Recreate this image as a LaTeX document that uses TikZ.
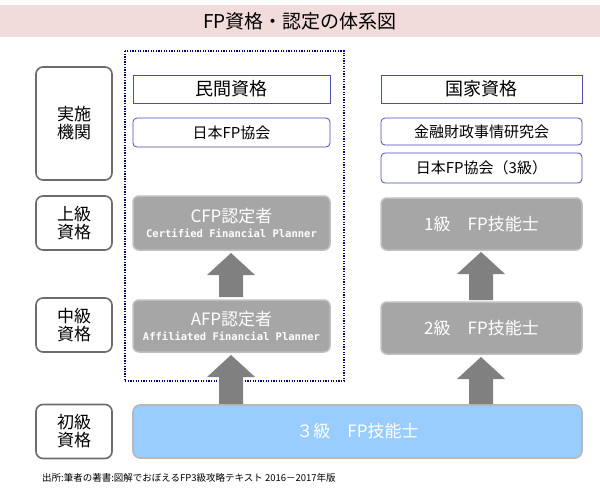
\documentclass[tikz,border=0pt]{standalone}
\usepackage{fontspec}
\setmainfont{Noto Sans CJK JP}
\newfontfamily\monof{DejaVu Sans Mono}
\newcommand\subtx{\fontsize{10.5}{12}\monof\bfseries}
\begin{document}
\begin{tikzpicture}[x=1pt,y=-1pt,
 lab/.style={draw=gray!85!black,line width=1.6pt,rounded corners=7pt,fill=white,align=center,font=\fontsize{17}{18}\selectfont,inner sep=0},
 head/.style={draw=blue!40!gray,line width=0.8pt,fill=white,font=\fontsize{18}{20}\selectfont,inner sep=0},
 org/.style={draw=blue!40!gray,line width=0.8pt,rounded corners=4pt,fill=white,font=\fontsize{15}{17}\selectfont,inner sep=0},
 gbox/.style={draw=black!25,line width=1.5pt,rounded corners=6pt,fill=black!35,text=white,align=center,font=\fontsize{17}{19}\selectfont,inner sep=0},
 arr/.style={fill=black!50,draw=none}]
\useasboundingbox (0,0) rectangle (600,498);
\fill[fill={rgb,255:red,242;green,220;blue,219}] (0,5) rectangle (600,37);
\node[font=\fontsize{19}{21}\selectfont] (title) at (300,21) {FP資格・認定の体系図};
\draw[blue!40!black,line width=1.3pt,dash pattern=on 1.3pt off 1.3pt] (125,51) rectangle (344,381);
% left labels
\node[lab,minimum width=76,minimum height=113] (l0) at (74,123.5) {実施\\機関};
\node[lab,minimum width=76,minimum height=54] (l1) at (74,223) {上級\\資格};
\node[lab,minimum width=76,minimum height=54] (l2) at (74,325) {中級\\資格};
\node[lab,minimum width=76,minimum height=54] (l3) at (74,431.5) {初級\\資格};
% column 1
\node[head,minimum width=197,minimum height=28] (h1) at (231.5,89) {民間資格};
\node[org,minimum width=197,minimum height=29] (o1) at (231.5,132.5) {日本FP協会};
\node[gbox,minimum width=197,minimum height=54] (cfp) at (231.5,223) {CFP認定者\\[-4pt]{\subtx Certified Financial Planner}};
\node[gbox,minimum width=197,minimum height=52] (afp) at (231.5,326) {AFP認定者\\[-4pt]{\subtx Affiliated Financial Planner}};
% column 2
\node[head,minimum width=201,minimum height=28] (h2) at (481.5,89) {国家資格};
\node[org,minimum width=201,minimum height=27] (o2) at (481.5,131.5) {金融財政事情研究会};
\node[org,minimum width=201,minimum height=30] (o3) at (481.5,168) {日本FP協会（3級）};
\node[gbox,minimum width=201,minimum height=52] (g1) at (481.5,224) {1級\quad FP技能士};
\node[gbox,minimum width=201,minimum height=52] (g2) at (481.5,328) {2級\quad FP技能士};
% bottom
\node[draw=black!28,line width=1.6pt,rounded corners=7pt,fill={rgb,255:red,153;green,204;blue,255},text=white,minimum width=449,minimum height=53,font=\fontsize{17}{19}\selectfont] (g3) at (357.5,431.5) {３級\quad FP技能士};
% arrows
\foreach \cx/\a/\b in {231/253/297, 231/355/404, 481/252/300, 481/357/404}{
 \fill[arr] (\cx-12,\b) -- (\cx-12,\a+22) -- (\cx-24,\a+22) -- (\cx,\a) -- (\cx+24,\a+22) -- (\cx+12,\a+22) -- (\cx+12,\b) -- cycle;}
\node[anchor=west,font=\fontsize{9.5}{11}\selectfont,inner sep=0] (src) at (42,478) {出所:筆者の著書:図解でおぼえるFP3級攻略テキスト 2016－2017年版};
\end{tikzpicture}
\end{document}
